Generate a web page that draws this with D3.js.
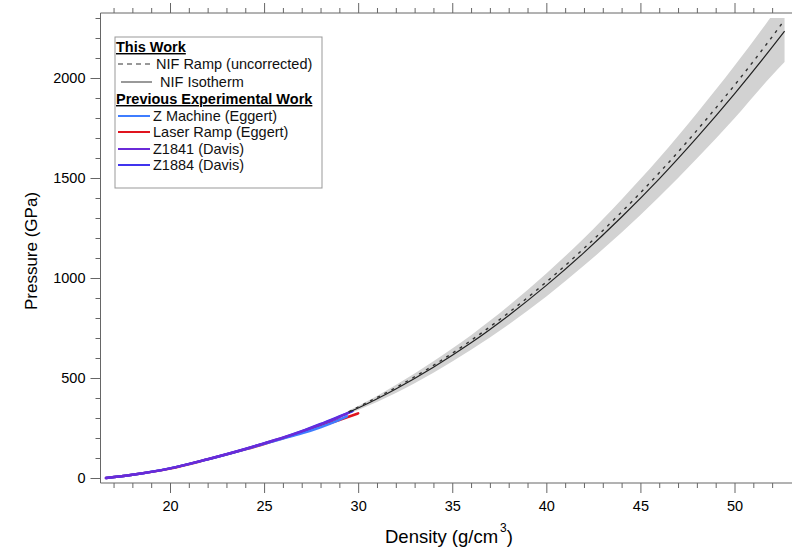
<!DOCTYPE html>
<html><head><meta charset="utf-8">
<script src="https://cdn.jsdelivr.net/npm/d3@7"></script>
<style>body{margin:0;background:#fff}svg{display:block;font-family:"Liberation Sans",Arial,sans-serif}</style>
</head><body>
<svg id="c" width="792" height="547"></svg>
<script>
// ---- data ----
const isoDensity = [29.5,30,32,34,36,38,40,42,44,46,48,50,52,52.66];
const isothermP  = [329,350,445,554,676,813,963,1127,1305,1496,1702,1921,2154,2234];
const rampP      = [331,355,452,563,688,827,980,1148,1330,1526,1738,1964,2206,2290];
const bandLower  = [321,340,425,526,641,768,908,1062,1227,1406,1597,1799,2014,2080];
const bandUpper  = [337,360,465,584,714,861,1023,1199,1393,1600,1824,2061,2314,2402];

const laserDensity = [16.6,18,20,22,24,25,26,27,28,29,30];
const laserP       = [0,16,47,93,143,170,199,228,259,290,323];
const zMachDensity = [16.6,18,20,22,24,25,26,27,28,29,29.4];
const zMachP       = [0,16,48,93,144,171,197,223,254,291,308];
const z1884Density = [16.6,18,20,22,24,25,26,27,28,29,29.7];
const z1884P       = [0,16,48,94,145,173,202,234,270,308,334];
const z1841Density = [16.6,18,20,22,24,25,26,27,28,29,29.5];
const z1841P       = [0,16,48,94,145,173,201,233,268,305,327];

const xTicks = [20,25,30,35,40,45,50];
const yTicks = [0,500,1000,1500,2000];

(function(){
const svg = d3.select("#c");
const x = d3.scaleLinear().domain([20,50]).range([170,734.5]);
const y = d3.scaleLinear().domain([0,2000]).range([478,78]);
const pL = 100.5, pR = 792, pT = 13, pB = 483;
const axisColor = "#666";

svg.append("defs").append("clipPath").attr("id","clip")
  .append("rect").attr("x",pL).attr("y",y(2300)).attr("width",pR-pL).attr("height",pB-y(2300));
const g = svg.append("g").attr("clip-path","url(#clip)");

const area = d3.area().x((d,i)=>x(isoDensity[i])).y0((d,i)=>y(bandLower[i])).y1((d,i)=>y(bandUpper[i])).curve(d3.curveMonotoneX);
g.append("path").attr("d",area(isoDensity)).attr("fill","#d2d2d2");

const line = (xs,ys)=>d3.line().x((d,i)=>x(xs[i])).y((d,i)=>y(ys[i])).curve(d3.curveMonotoneX)(xs);

const series = [
  {xs:laserDensity, ys:laserP, c:"#e0141e"},
  {xs:zMachDensity, ys:zMachP, c:"#3f7dff"},
  {xs:z1884Density, ys:z1884P, c:"#4034ee"},
  {xs:z1841Density, ys:z1841P, c:"#6a2ad8"}
];
series.forEach(s=>g.append("path").attr("d",line(s.xs,s.ys)).attr("fill","none").attr("stroke",s.c).attr("stroke-width",2.5).attr("stroke-linecap","round"));

g.append("path").attr("d",line(isoDensity,isothermP)).attr("fill","none").attr("stroke","#222").attr("stroke-width",1.2);
g.append("path").attr("d",line(isoDensity,rampP)).attr("fill","none").attr("stroke","#333").attr("stroke-width",1.4).attr("stroke-dasharray","3,5");

const minorX = d3.range(17,53,1).filter(v=>v%5!==0);
const minorY = d3.range(100,2400,100).filter(v=>v%500!==0);

const bx = svg.append("g").attr("transform",`translate(0,${pB})`)
  .call(d3.axisBottom(x).tickValues(xTicks).tickSize(10).tickPadding(8).tickFormat(d3.format("d")));
const bxm = svg.append("g").attr("transform",`translate(0,${pB})`)
  .call(d3.axisBottom(x).tickValues(minorX).tickSize(5).tickFormat(""));
const tx = svg.append("g").attr("transform",`translate(0,${pT})`)
  .call(d3.axisTop(x).tickValues(xTicks).tickSize(10).tickFormat(""));
const txm = svg.append("g").attr("transform",`translate(0,${pT})`)
  .call(d3.axisTop(x).tickValues(minorX).tickSize(5).tickFormat(""));
const ly = svg.append("g").attr("transform",`translate(${pL},0)`)
  .call(d3.axisLeft(y).tickValues(yTicks).tickSize(10).tickPadding(5).tickFormat(d3.format("d")));
const lym = svg.append("g").attr("transform",`translate(${pL},0)`)
  .call(d3.axisLeft(y).tickValues(minorY).tickSize(5).tickFormat(""));

[bx,bxm,tx,txm,ly,lym].forEach(a=>{
  a.select(".domain").remove();
  a.selectAll("line").attr("stroke",axisColor);
  a.selectAll("text").attr("fill","#000").style("font-size","14.5px").style("font-family","'Liberation Sans',Arial,sans-serif");
});
svg.append("line").attr("x1",pL).attr("x2",pR).attr("y1",pB).attr("y2",pB).attr("stroke",axisColor);
svg.append("line").attr("x1",pL).attr("x2",pR).attr("y1",pT).attr("y2",pT).attr("stroke",axisColor);
svg.append("line").attr("x1",pL).attr("x2",pL).attr("y1",pT).attr("y2",pB).attr("stroke",axisColor);

svg.append("text").attr("transform","translate(37,251) rotate(-90)").attr("text-anchor","middle")
  .style("font-size","17px").text("Pressure (GPa)");
const xt = svg.append("text").attr("x",385).attr("y",543).style("font-size","18.5px");
xt.append("tspan").text("Density (g/cm");
xt.append("tspan").attr("dy",-11).attr("dx",2).style("font-size","12px").text("3");
xt.append("tspan").attr("dy",11).attr("dx",0).text(")");

const lg = svg.append("g");
lg.append("rect").attr("x",115).attr("y",37).attr("width",207).attr("height",151).attr("fill","#fff").attr("stroke","#999").attr("stroke-width",1);
const fs = "14.5px";
const legendRows = [
  {t:"This Work", y:52, bold:true},
  {t:"NIF Ramp (uncorrected)", y:69, sample:"dash", tx:156},
  {t:"NIF Isotherm", y:87, sample:"solid", tx:160},
  {t:"Previous Experimental Work", y:104, bold:true},
  {t:"Z Machine (Eggert)", y:121, c:"#3f7dff", tx:153},
  {t:"Laser Ramp (Eggert)", y:137, c:"#e0141e", tx:153},
  {t:"Z1841 (Davis)", y:154, c:"#6a2ad8", tx:153},
  {t:"Z1884 (Davis)", y:170, c:"#4034ee", tx:153}
];
legendRows.forEach(r=>{
  if(r.bold){
    lg.append("text").attr("x",116).attr("y",r.y).style("font-size",fs).style("font-weight","bold")
      .style("text-decoration","underline").text(r.t);
    return;
  }
  const y0 = r.y-5;
  if(r.sample==="dash"){
    lg.append("line").attr("x1",118).attr("x2",151).attr("y1",y0).attr("y2",y0).attr("stroke","#333").attr("stroke-width",1.2).attr("stroke-dasharray","5,4");
  } else if(r.sample==="solid"){
    lg.append("line").attr("x1",121).attr("x2",152).attr("y1",y0).attr("y2",y0).attr("stroke","#555").attr("stroke-width",1.2);
  } else {
    lg.append("line").attr("x1",118).attr("x2",150).attr("y1",y0).attr("y2",y0).attr("stroke",r.c).attr("stroke-width",2);
  }
  lg.append("text").attr("x",r.tx).attr("y",r.y).style("font-size",fs).attr("fill","#111").text(r.t);
});
})();
</script>
</body></html>
